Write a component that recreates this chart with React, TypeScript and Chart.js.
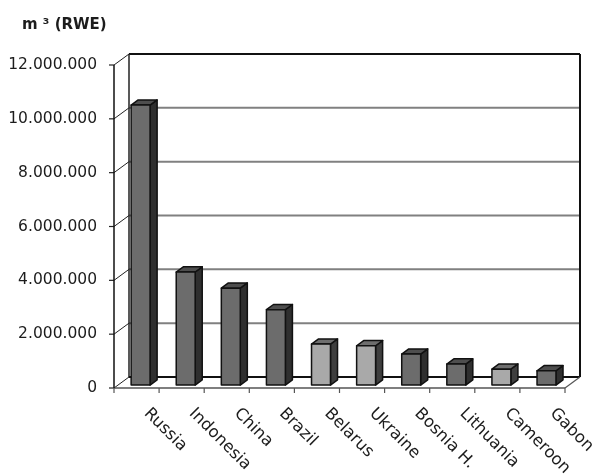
import React, { useEffect, useRef } from "react";
import { Chart, registerables } from "chart.js";

Chart.register(...registerables);

const categories = ["Russia", "Indonesia", "China", "Brazil", "Belarus", "Ukraine", "Bosnia H.", "Lithuania", "Cameroon", "Gabon"];
const values = [10400000, 4200000, 3600000, 2800000, 1520000, 1460000, 1150000, 780000, 590000, 530000];
const lightBars = ["Belarus", "Ukraine", "Cameroon"];
const yMin = 0;
const yMax = 12000000;
const yStep = 2000000;
const unitLabel = "m ³ (RWE)";

const DX = 15;
const DY = -11;
const F0 = 0.27;
const F1 = 0.74;

const fmt = (v: number) => String(Math.round(v)).replace(/\B(?=(\d{3})+(?!\d))/g, ".");

const line = (ctx: CanvasRenderingContext2D, x0: number, y0: number, x1: number, y1: number, color: string, w: number) => {
  ctx.beginPath();
  ctx.strokeStyle = color;
  ctx.lineWidth = w;
  ctx.moveTo(x0, y0);
  ctx.lineTo(x1, y1);
  ctx.stroke();
};

const poly = (ctx: CanvasRenderingContext2D, pts: number[][], fill: string) => {
  ctx.beginPath();
  ctx.moveTo(pts[0][0], pts[0][1]);
  for (let i = 1; i < pts.length; i++) ctx.lineTo(pts[i][0], pts[i][1]);
  ctx.closePath();
  ctx.fillStyle = fill;
  ctx.fill();
  ctx.strokeStyle = "#111";
  ctx.lineWidth = 1.5;
  ctx.lineJoin = "round";
  ctx.stroke();
};

const box3d = {
  id: "box3d",
  beforeDatasetsDraw(chart: any) {
    const { ctx, chartArea, scales } = chart;
    const { left, right, top, bottom } = chartArea;
    const y = scales.y;
    const x = scales.x;
    ctx.save();
    y.ticks.forEach((t: any) => {
      const py = y.getPixelForValue(t.value);
      if (t.value > yMin && t.value < yMax) {
        line(ctx, left + DX, py + DY, right + DX, py + DY, "#808080", 2);
      }
      line(ctx, left, py, left + DX, py + DY, "#222", 1);
      line(ctx, left - 5, py, left, py, "#222", 1.2);
    });
    line(ctx, left + DX, top + DY, right + DX, top + DY, "#111", 2);
    line(ctx, left + DX, top + DY, left + DX, bottom + DY, "#222", 1.5);
    line(ctx, right + DX, top + DY, right + DX, bottom + DY, "#111", 2);
    line(ctx, left + DX, bottom + DY, right + DX, bottom + DY, "#111", 2);
    line(ctx, right, bottom, right + DX, bottom + DY, "#555", 1.2);
    line(ctx, left, bottom, right, bottom, "#555", 1.5);
    line(ctx, left, top, left, bottom, "#111", 1.5);
    const step = x.getPixelForValue(1) - x.getPixelForValue(0);
    for (let i = 0; i <= categories.length; i++) {
      const px = x.getPixelForValue(0) - step / 2 + i * step;
      line(ctx, px, bottom, px, bottom + 5, "#555", 1.2);
    }
    ctx.restore();
  },
  afterDatasetsDraw(chart: any) {
    const { ctx } = chart;
    const meta = chart.getDatasetMeta(0);
    ctx.save();
    meta.data.forEach((el: any, i: number) => {
      const p = el.getProps(["x", "y", "base", "width"], true);
      const w = p.width;
      const fx0 = p.x - w / 2 + DX * F0;
      const fx1 = fx0 + w;
      const fy0 = p.y + DY * F0;
      const fy1 = p.base + DY * F0;
      const ddx = DX * (F1 - F0);
      const ddy = DY * (F1 - F0);
      const light = lightBars.includes(categories[i]);
      const front = light ? "#a9a9a9" : "#6c6c6c";
      const topC = light ? "#6e6e6e" : "#4e4e4e";
      const side = light ? "#3e3e3e" : "#2f2f2f";
      poly(ctx, [[fx1, fy0], [fx1 + ddx, fy0 + ddy], [fx1 + ddx, fy1 + ddy], [fx1, fy1]], side);
      poly(ctx, [[fx0, fy0], [fx1, fy0], [fx1 + ddx, fy0 + ddy], [fx0 + ddx, fy0 + ddy]], topC);
      poly(ctx, [[fx0, fy0], [fx1, fy0], [fx1, fy1], [fx0, fy1]], front);
    });
    ctx.restore();
  },
  afterDraw(chart: any) {
    const { ctx, scales } = chart;
    const x = scales.x;
    ctx.save();
    ctx.fillStyle = "#1c1c1c";
    ctx.font = "16.5px 'DejaVu Sans'";
    ctx.textAlign = "left";
    ctx.textBaseline = "middle";
    categories.forEach((c, i) => {
      const cx = x.getPixelForValue(i);
      ctx.save();
      ctx.translate(cx + 10, 411);
      ctx.rotate(Math.PI / 4);
      ctx.fillText(c, 0, 0);
      ctx.restore();
    });
    ctx.font = "bold 15px 'DejaVu Sans'";
    ctx.textBaseline = "alphabetic";
    ctx.fillText(unitLabel, 22, 29);
    ctx.restore();
  },
};

export default function App() {
  const ref = useRef<HTMLCanvasElement | null>(null);
  useEffect(() => {
    document.body.style.margin = "0";
    const canvas = ref.current!;
    const chart = new Chart(canvas, {
      type: "bar",
      data: {
        labels: categories,
        datasets: [
          {
            data: values,
            backgroundColor: "rgba(0,0,0,0)",
            borderWidth: 0,
            barPercentage: 0.42,
            categoryPercentage: 1,
          },
        ],
      },
      options: {
        responsive: false,
        animation: false,
        devicePixelRatio: 1,
        layout: { padding: { top: 65, right: 33, bottom: 86, left: 0 } },
        plugins: { legend: { display: false }, tooltip: { enabled: false }, title: { display: false } },
        scales: {
          x: { display: false, offset: true },
          y: {
            min: yMin,
            max: yMax,
            grid: { display: false },
            border: { display: false },
            afterFit: (s: any) => {
              s.width = 114;
            },
            ticks: {
              stepSize: yStep,
              padding: 9,
              color: "#1c1c1c",
              font: { family: "DejaVu Sans", size: 15.5 },
              callback: (v: any) => fmt(Number(v)),
            },
          },
        },
      },
      plugins: [box3d],
    });
    return () => chart.destroy();
  }, []);
  return <canvas ref={ref} width={598} height={474} style={{ display: "block" }} />;
}
